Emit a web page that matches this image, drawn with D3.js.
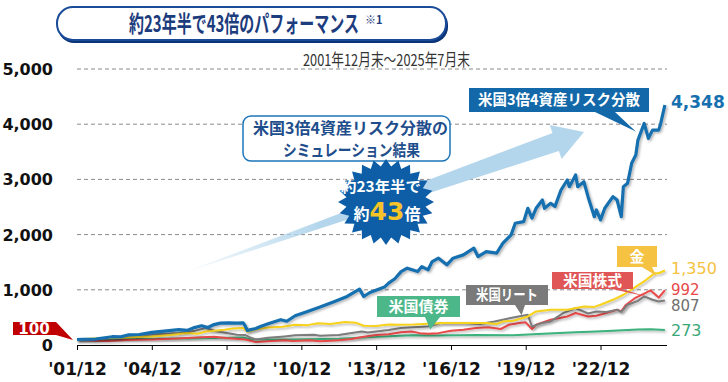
<!DOCTYPE html>
<html><head><meta charset="utf-8">
<script src="https://cdn.jsdelivr.net/npm/d3@7"></script>
<style>
body{margin:0;background:#fff;}
svg{display:block;}
</style></head><body>
<svg id="c" width="728" height="382"></svg>
<script>
// ---------- data ----------
const xTickDates = ["2001-12","2004-12","2007-12","2010-12","2013-12","2016-12","2019-12","2022-12"];
const xTickLabels = ["'01/12","'04/12","'07/12","'10/12","'13/12","'16/12","'19/12","'22/12"];
const yTicks = [0,1000,2000,3000,4000,5000];

const seriesNames = ["米国3倍4資産リスク分散","金","米国株式","米国リート","米国債券"];
const endLabels = ["4,348","1,350","992","807","273"];

const riskParity = [["2001-12",100],["2002-04",104],["2002-09",108],["2003-05",150],["2003-09",148],["2004-01",185],["2004-06",190],["2004-12",228],["2005-06",250],["2006-01",277],["2006-05",265],["2006-08",310],["2006-12",349],["2007-03",318],["2007-06",370],["2007-09",397],["2008-01",400],["2008-05",397],["2008-08",400],["2008-09",340],["2008-10",264],["2009-02",300],["2009-04",330],["2009-08",385],["2010-02",458],["2010-05",430],["2010-09",530],["2011-03",608],["2011-09",687],["2012-04",788],["2012-10",879],["2013-04",1012],["2013-06",879],["2013-09",951],["2014-04",1049],["2014-06",1120],["2014-09",1200],["2014-12",1330],["2015-03",1392],["2015-08",1331],["2015-10",1421],["2016-01",1362],["2016-03",1512],["2016-06",1573],["2016-10",1452],["2017-01",1573],["2017-06",1633],["2017-11",1754],["2018-01",1603],["2018-05",1693],["2018-10",1663],["2019-01",1844],["2019-05",1995],["2019-07",2206],["2019-11",2235],["2020-01",2477],["2020-03",2297],["2020-05",2477],["2020-08",2627],["2020-09",2477],["2020-12",2567],["2021-02",2507],["2021-05",2808],["2021-08",2989],["2021-09",2868],["2021-12",3080],["2022-01",2868],["2022-04",2958],["2022-06",2687],["2022-09",2325],["2022-10",2447],["2022-12",2266],["2023-02",2477],["2023-06",2687],["2023-08",2627],["2023-10",2325],["2023-11",2868],["2024-01",2929],["2024-03",3291],["2024-05",3441],["2024-06",3712],["2024-09",4014],["2024-11",3743],["2025-01",3893],["2025-04",3893],["2025-05",4014],["2025-07",4348]];

const gold = [["2001-12",100],["2002-06",112],["2003-01",126],["2003-08",128],["2004-01",140],["2004-12",156],["2005-09",180],["2006-05",217],["2006-10",205],["2007-02",246],["2007-11",276],["2008-03",300],["2008-08",307],["2008-10",240],["2009-03",290],["2009-08",318],["2010-03",330],["2010-09",367],["2011-03",360],["2011-08",395],["2012-02",380],["2012-09",416],["2013-02",405],["2013-06",349],["2013-12",345],["2014-06",370],["2014-11",367],["2015-06",372],["2016-01",385],["2016-08",400],["2017-04",397],["2018-05",400],["2018-10",380],["2019-01",427],["2019-06",440],["2019-09",470],["2020-01",517],["2020-05",608],["2020-12",638],["2021-08",638],["2022-04",698],["2022-09",690],["2022-12",729],["2023-06",819],["2023-11",910],["2024-04",1031],["2024-10",1181],["2025-02",1302],["2025-04",1300],["2025-07",1350]];

const usStock = [["2001-12",100],["2002-06",88],["2002-09",75],["2003-03",72],["2003-12",90],["2004-12",100],["2005-12",120],["2006-12",140],["2007-06",150],["2007-12",125],["2008-06",110],["2008-09",100],["2009-02",54],["2009-08",70],["2010-04",85],["2010-08",72],["2011-04",85],["2011-09",70],["2012-06",85],["2012-12",110],["2013-06",150],["2013-12",180],["2014-06",195],["2014-12",230],["2015-05",246],["2015-09",215],["2016-01",204],["2016-06",215],["2016-12",260],["2017-06",276],["2017-12",307],["2018-06",320],["2018-12",290],["2019-04",367],["2019-09",397],["2019-12",410],["2020-03",290],["2020-05",367],["2020-12",458],["2021-08",517],["2021-12",580],["2022-06",517],["2022-10",530],["2023-01",560],["2023-08",638],["2023-10",610],["2023-12",720],["2024-05",860],["2024-10",950],["2024-12",990],["2025-04",860],["2025-07",992]];

const usReit = [["2001-12",100],["2002-06",110],["2003-03",115],["2003-12",150],["2004-12",190],["2005-06",205],["2006-01",217],["2006-09",260],["2007-02",307],["2007-07",250],["2007-12",217],["2008-05",186],["2008-09",180],["2008-12",126],["2009-02",100],["2009-08",130],["2010-04",156],["2010-09",175],["2011-06",186],["2011-09",168],["2012-06",180],["2013-05",246],["2013-08",225],["2014-06",270],["2014-12",307],["2015-06",320],["2016-01",335],["2016-07",397],["2017-06",400],["2018-02",380],["2018-09",427],["2019-06",500],["2020-01",548],["2020-03",336],["2020-08",400],["2020-12",427],["2021-06",578],["2021-12",669],["2022-06",570],["2022-10",608],["2023-03",600],["2023-08",638],["2023-10",600],["2024-01",729],["2024-06",800],["2024-09",880],["2025-01",820],["2025-04",788],["2025-07",807]];

const usBond = [["2001-12",100],["2003-06",110],["2004-12",115],["2006-06",120],["2007-12",130],["2008-08",135],["2008-12",100],["2010-06",100],["2012-06",115],["2013-12",150],["2015-06",175],["2016-06",170],["2017-12",180],["2019-06",175],["2020-06",200],["2021-12",230],["2022-10",245],["2023-06",260],["2024-06",280],["2024-12",285],["2025-07",273]];

// ---------- layout ----------
const svg = d3.select("#c");
const parse = d3.timeParse("%Y-%m");
const x = d3.scaleTime().domain([parse("2001-12"), parse("2025-08")]).range([77, 667]);
const y = d3.scaleLinear().domain([0, 5000]).range([345, 69]);

const JP = "'Noto Sans CJK JP','Noto Sans',sans-serif";
const NUM = "'DejaVu Sans',Verdana,sans-serif";

// text squeezed horizontally to a given width (via transform)
function fitText(parent, txt, left, baseY, width, attrs){
  const t = parent.append("text").attr("x",0).attr("y",0).text(txt);
  Object.entries(attrs).forEach(([k,v])=>t.attr(k,v));
  const nat = t.node().getComputedTextLength();
  const sx = width / nat;
  t.attr("transform",`translate(${left},${baseY}) scale(${sx},1)`);
  return t;
}

const defs = svg.append("defs");
const sh = defs.append("filter").attr("id","sh").attr("x","-5%").attr("y","-5%").attr("width","110%").attr("height","120%");
sh.append("feDropShadow").attr("dx",1.5).attr("dy",1.5).attr("stdDeviation",1).attr("flood-color","#000").attr("flood-opacity",0.3);
const grad = defs.append("linearGradient").attr("id","arrowGrad").attr("x1","0").attr("x2","1").attr("y1","0").attr("y2","0");
grad.append("stop").attr("offset","0").attr("stop-color","#b3d6ec").attr("stop-opacity",0);
grad.append("stop").attr("offset","0.35").attr("stop-color","#b3d6ec").attr("stop-opacity",1);
grad.append("stop").attr("offset","1").attr("stop-color","#b3d6ec").attr("stop-opacity",1);

// title
svg.append("rect").attr("x",58).attr("y",9).attr("width",390).attr("height",34).attr("rx",16).attr("fill","#0b3478");
svg.append("rect").attr("x",57).attr("y",7).attr("width",389).attr("height",33).attr("rx",16).attr("fill","#fff").attr("stroke","#1a4b98").attr("stroke-width",2);
fitText(svg,"約23年半で43倍のパフォーマンス",129,32,230,{"font-family":JP,"font-weight":700,"font-size":23,"fill":"#1c3c7e"});
svg.append("text").attr("x",365).attr("y",24).attr("font-family",JP).attr("font-weight",700).attr("font-size",11)
  .attr("fill","#1c3c7e").text("※1");

// subtitle
fitText(svg,"2001年12月末～2025年7月末",303,66,167,{"font-family":JP,"font-size":16.5,"fill":"#333"});

// grid
svg.append("g").selectAll("line").data(yTicks.filter(d=>d>0)).join("line")
  .attr("x1",77).attr("x2",667).attr("y1",d=>y(d)).attr("y2",d=>y(d))
  .attr("stroke","#8a8a8a").attr("stroke-width",1).attr("stroke-dasharray","4,3");

// y labels
svg.append("g").selectAll("text").data(yTicks).join("text")
  .attr("x",53).attr("y",d=>y(d)+6).attr("text-anchor","end")
  .attr("font-family",NUM).attr("font-weight",700).attr("font-size",16).attr("fill","#111")
  .text(d=>d3.format(",")(d));

// x axis
const xAxis = d3.axisBottom(x).tickValues(xTickDates.map(parse)).tickSize(5)
  .tickFormat((d,i)=>xTickLabels[i]);
const gx = svg.append("g").attr("transform","translate(0,345)").call(xAxis);
gx.select(".domain").attr("stroke","#000").attr("d","M77,0.5H667");
gx.selectAll(".tick line").attr("stroke","#000");
gx.selectAll(".tick text").attr("font-family",NUM).attr("font-weight",700).attr("font-size",17).attr("fill","#111")
  .attr("y",0).attr("dy",null).attr("transform","translate(0,30)");

// arrow (decorative)
const tail = [180, 274], tip = [584, 132];
const ang = Math.atan2(tip[1]-tail[1], tip[0]-tail[0]);
const len = Math.hypot(tip[0]-tail[0], tip[1]-tail[1]);
const ux = Math.cos(ang), uy = Math.sin(ang), px = -uy, py = ux;
const headLen = 30, shaftW = 19, headW = 36;
const P = (d, w) => [tail[0]+ux*d+px*w, tail[1]+uy*d+py*w];
const arrowPts = [P(0,0), P(len-headLen,-shaftW/2), P(len-headLen,-headW/2), P(len,0), P(len-headLen,headW/2), P(len-headLen,shaftW/2)];
svg.append("polygon").attr("points",arrowPts.map(p=>p.join(",")).join(" "))
  .attr("fill","url(#arrowGrad)");

// lines
const line = d3.line().x(d=>x(parse(d[0]))).y(d=>y(d[1])).curve(d3.curveLinear);
const series = [
  {data: usBond, color:"#3db27d", w:2},
  {data: usStock, color:"#e84848", w:2},
  {data: usReit, color:"#7b7b7b", w:2},
  {data: gold, color:"#f7d21c", w:2},
  {data: riskParity, color:"#1670b0", w:3.2}
];
svg.append("g").selectAll("path").data(series).join("path")
  .attr("d",d=>line(d.data)).attr("fill","none").attr("stroke",d=>d.color).attr("stroke-width",d=>d.w)
  .attr("stroke-linejoin","round").attr("filter","url(#sh)");

// end labels
const endInfo = [
  {t:endLabels[0], c:"#1670b0", yv:4348, dy:-3, fw:700, fs:17},
  {t:endLabels[1], c:"#f5c242", yv:1350, dy:-2, fw:400, fs:16},
  {t:endLabels[2], c:"#e84848", yv:992, dy:-1.5, fw:400, fs:15},
  {t:endLabels[3], c:"#707070", yv:807, dy:4.5, fw:400, fs:15},
  {t:endLabels[4], c:"#3aa876", yv:273, dy:0, fw:400, fs:16}
];
svg.append("g").selectAll("text").data(endInfo).join("text")
  .attr("x",671).attr("y",d=>y(d.yv)+d.dy+6).attr("font-family",NUM).attr("font-weight",d=>d.fw)
  .attr("font-size",d=>d.fs).attr("fill",d=>d.c).text(d=>d.t);

// callout labels with pointer
function callout(bx,by,bw,bh,b1,b2,tipPt,fill,txt,fs,tl,txtY){
  const g = svg.append("g");
  g.append("path").attr("d",`M${bx},${by}H${bx+bw}V${by+bh}H${b2}L${tipPt[0]},${tipPt[1]}L${b1},${by+bh}H${bx}Z`).attr("fill",fill);
  const a = {"font-family":JP,"font-weight":700,"font-size":fs,"fill":"#fff"};
  if (tl) fitText(g, txt, bx+bw/2-tl/2, txtY, tl, a);
  else g.append("text").attr("x",bx+bw/2).attr("y",txtY).attr("text-anchor","middle")
    .attr("font-family",JP).attr("font-weight",700).attr("font-size",fs).attr("fill","#fff").text(txt);
}
const at = (d,v)=>[x(parse(d)), y(v)];
callout(469,88,180,24,595,615,at("2024-05",3870),"#1268a8",seriesNames[0],15,162,105);
callout(617,246,40,21,642,652,at("2025-03",1250),"#f5c242",seriesNames[1],15,null,262);
callout(552,272,81,17,612,622,at("2024-10",880),"#e05555",seriesNames[2],14.5,59,286);
callout(466,285,82,20,515,525,at("2019-10",540),"#7a7a7a",seriesNames[3],14.5,62,300);
callout(377,296,83,21,425,440,at("2016-02",280),"#4cb88a",seriesNames[4],14.5,60,312);

// 100 tag
svg.append("path").attr("d",`M13,322H56L${x(parse("2001-12"))-4},${y(100)+0.5}L56,335H13Z`).attr("fill","#c00000");
svg.append("text").attr("x",34).attr("y",334).attr("text-anchor","middle").attr("font-family",NUM).attr("font-weight",700)
  .attr("font-size",15).attr("fill","#fff").text("100");

// callout box
svg.append("rect").attr("x",243).attr("y",116).attr("width",207).attr("height",45).attr("rx",8)
  .attr("fill","#fff").attr("stroke","#1b75bb").attr("stroke-width",1.5);
fitText(svg,"米国3倍4資産リスク分散の",253,134,195,{"font-family":JP,"font-weight":700,"font-size":16,"fill":"#1f4e8c"});
fitText(svg,"シミュレーション結果",283,156,137,{"font-family":JP,"font-weight":700,"font-size":16,"fill":"#1f4e8c"});

// starburst
const cx = 386, cy = 202, nS = 24;
const burst = d3.range(nS*2).map(i=>{
  const a = i*Math.PI/nS - Math.PI/2;
  const ro = i%2===0 ? 1 : 0.83;
  return [cx+Math.cos(a)*48*ro, cy+Math.sin(a)*43*ro];
});
svg.append("polygon").attr("points",burst.map(p=>p.join(",")).join(" ")).attr("fill","#0d5ea6");
fitText(svg,"約23年半で",341,192,80,{"font-family":JP,"font-weight":700,"font-size":15,"fill":"#fff"});
const t2 = svg.append("text").attr("x",387).attr("y",220).attr("text-anchor","middle").attr("font-family",JP).attr("font-weight",700).attr("fill","#fff");
t2.append("tspan").attr("font-size",16).text("約");
t2.append("tspan").attr("font-size",25).attr("fill","#f6c429").attr("font-family",NUM).text("43");
t2.append("tspan").attr("font-size",16).text("倍");
</script>
</body></html>
